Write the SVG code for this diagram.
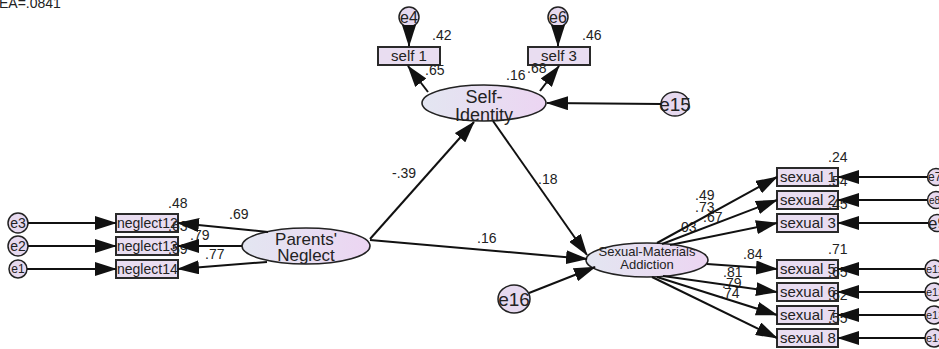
<svg xmlns="http://www.w3.org/2000/svg" width="939" height="349" viewBox="0 0 939 349">
<defs>
<linearGradient id="lg" x1="0" y1="0" x2="1" y2="0">
<stop offset="0" stop-color="#e3e6f1"/>
<stop offset="1" stop-color="#ecd5f2"/>
</linearGradient>
<marker id="ah" markerUnits="userSpaceOnUse" markerWidth="22" markerHeight="14" refX="21" refY="7" orient="auto">
<path d="M0,0 L22,7 L0,14 z" fill="#111"/>
</marker>
</defs>
<style>
.box{fill:#e9ddf1;stroke:#2a2a2a;stroke-width:2}
.lat{fill:url(#lg);stroke:#222;stroke-width:1.6}
.err{fill:#e6d9ef;stroke:#222;stroke-width:1.5}
.t{font-family:"Liberation Sans",Arial,sans-serif;fill:#222}
.bl{font-size:15px}
.n{font-size:14px}
.c{stroke:#111;stroke-width:2;fill:none;marker-end:url(#ah)}
</style>
<rect width="939" height="349" fill="#fff"/>
<text class="t" x="-1" y="8" font-size="14">EA=.0841</text>

<g id="self-identity"><ellipse class="lat" cx="484" cy="103" rx="62" ry="18"/><text class="t" x="484" y="103" font-size="18" text-anchor="middle">Self-</text><text class="t" x="484" y="121" font-size="18" text-anchor="middle">Identity</text></g>
<g id="parents-neglect"><ellipse class="lat" cx="306" cy="246" rx="64" ry="18"/><text class="t" x="306" y="245" font-size="17" text-anchor="middle">Parents'</text><text class="t" x="306" y="261" font-size="17" text-anchor="middle">Neglect</text></g>
<g id="sexual-addiction"><ellipse class="lat" cx="647" cy="260" rx="61" ry="17"/><text class="t" x="647" y="256" font-size="13" text-anchor="middle">Sexual-Materials</text><text class="t" x="647" y="269" font-size="13" text-anchor="middle">Addiction</text></g>

<g id="self1"><rect class="box" x="378" y="47" width="62" height="18"/><text class="t bl" x="409" y="61" text-anchor="middle">self 1</text></g>
<g id="self3"><rect class="box" x="528" y="47" width="62" height="18"/><text class="t bl" x="559" y="61" text-anchor="middle">self 3</text></g>
<g id="neglect12"><rect class="box" x="116" y="214" width="62" height="18"/><text class="t" x="117" y="228" font-size="14">neglect12</text></g>
<g id="neglect13"><rect class="box" x="116" y="237" width="62" height="18"/><text class="t" x="117" y="251" font-size="14">neglect13</text></g>
<g id="neglect14"><rect class="box" x="116" y="260" width="62" height="18"/><text class="t" x="117" y="274" font-size="14">neglect14</text></g>
<g id="sexual1"><rect class="box" x="777" y="168" width="61" height="18"/><text class="t bl" x="780" y="182">sexual 1</text></g>
<g id="sexual2"><rect class="box" x="777" y="191" width="61" height="18"/><text class="t bl" x="780" y="205">sexual 2</text></g>
<g id="sexual3"><rect class="box" x="777" y="214" width="61" height="18"/><text class="t bl" x="780" y="228">sexual 3</text></g>
<g id="sexual5"><rect class="box" x="777" y="260" width="61" height="18"/><text class="t bl" x="780" y="274">sexual 5</text></g>
<g id="sexual6"><rect class="box" x="777" y="283" width="61" height="18"/><text class="t bl" x="780" y="297">sexual 6</text></g>
<g id="sexual7"><rect class="box" x="777" y="306" width="61" height="18"/><text class="t bl" x="780" y="320">sexual 7</text></g>
<g id="sexual8"><rect class="box" x="777" y="329" width="61" height="18"/><text class="t bl" x="780" y="343">sexual 8</text></g>

<g id="e4"><circle class="err" cx="409" cy="17" r="10"/><text class="t" x="409" y="23" font-size="16" text-anchor="middle">e4</text></g>
<g id="e6"><circle class="err" cx="558" cy="17" r="10"/><text class="t" x="558" y="23" font-size="16" text-anchor="middle">e6</text></g>
<g id="e15"><ellipse class="err" cx="675" cy="104" rx="14" ry="12"/><text class="t" x="675" y="111" font-size="19" text-anchor="middle">e15</text></g>
<g id="e16"><ellipse class="err" cx="514" cy="299" rx="16" ry="14"/><text class="t" x="514" y="306" font-size="19" text-anchor="middle">e16</text></g>
<g id="e3"><circle class="err" cx="18" cy="223" r="10"/><text class="t" x="18" y="228" font-size="14" text-anchor="middle">e3</text></g>
<g id="e2"><circle class="err" cx="18" cy="246" r="10"/><text class="t" x="18" y="251" font-size="14" text-anchor="middle">e2</text></g>
<g id="e1"><circle class="err" cx="18" cy="269" r="9"/><text class="t" x="18" y="273" font-size="12" text-anchor="middle">e1</text></g>
<g id="e7"><circle class="err" cx="936" cy="177" r="8.5"/><text class="t" x="928" y="181" font-size="12">e7</text></g>
<g id="e8"><circle class="err" cx="936" cy="200" r="8.5"/><text class="t" x="929" y="204" font-size="10">e8</text></g>
<g id="e9"><circle class="err" cx="937" cy="223" r="8.5"/><text class="t" x="928" y="229" font-size="17">e9</text></g>
<g id="e11"><circle class="err" cx="934" cy="269" r="9"/><text class="t" x="926" y="273" font-size="11">e11</text></g>
<g id="e12"><circle class="err" cx="934" cy="292" r="9"/><text class="t" x="926" y="296" font-size="11">e12</text></g>
<g id="e13"><circle class="err" cx="934" cy="315" r="9"/><text class="t" x="926" y="319" font-size="11">e13</text></g>
<g id="e14"><circle class="err" cx="934" cy="338" r="9"/><text class="t" x="926" y="342" font-size="11">e14</text></g>

<g id="labels" class="t n">
<text x="432" y="40">.42</text>
<text x="582" y="40">.46</text>
<text x="425" y="75">.65</text>
<text x="506" y="80">.16</text>
<text x="527" y="73">.68</text>
<text x="168" y="208">.48</text>
<text x="168" y="231">.63</text>
<text x="168" y="254">.59</text>
<text x="229" y="219">.69</text>
<text x="190" y="240">.79</text>
<text x="205" y="259">.77</text>
<text x="392" y="178">-.39</text>
<text x="538" y="184">.18</text>
<text x="477" y="243">.16</text>
<text x="828" y="162">.24</text>
<text x="828" y="186">.54</text>
<text x="828" y="209">.45</text>
<text x="828" y="254">.71</text>
<text x="828" y="277">.65</text>
<text x="828" y="300">.62</text>
<text x="828" y="323">.55</text>
<text x="695" y="200">.49</text>
<text x="695" y="212">.73</text>
<text x="703" y="222">.67</text>
<text x="677" y="232">.03</text>
<text x="743" y="259">.84</text>
<text x="723" y="277">.81</text>
<text x="722" y="288">.79</text>
<text x="720" y="298">.74</text>
</g>

<g id="connectors">
<line class="c" x1="409" y1="27" x2="409" y2="46"/>
<line class="c" x1="558" y1="27" x2="558" y2="46"/>
<line class="c" x1="428" y1="92" x2="408" y2="66"/>
<line class="c" x1="540" y1="91" x2="559" y2="66"/>
<line class="c" x1="661" y1="104" x2="547" y2="103"/>
<line class="c" x1="370" y1="239" x2="474" y2="122"/>
<line class="c" x1="493" y1="121" x2="587" y2="255"/>
<line class="c" x1="370" y1="240" x2="587" y2="259"/>
<line class="c" x1="529" y1="293" x2="595" y2="267"/>
<line class="c" x1="28" y1="223" x2="116" y2="223"/>
<line class="c" x1="28" y1="246" x2="116" y2="246"/>
<line class="c" x1="27" y1="269" x2="116" y2="269"/>
<line class="c" x1="268" y1="232" x2="178" y2="223"/>
<line class="c" x1="242" y1="246" x2="178" y2="246"/>
<line class="c" x1="267" y1="262" x2="178" y2="269"/>
<line class="c" x1="657" y1="243" x2="777" y2="177"/>
<line class="c" x1="662" y1="244" x2="777" y2="200"/>
<line class="c" x1="670" y1="245" x2="777" y2="223"/>
<line class="c" x1="707" y1="264" x2="777" y2="269"/>
<line class="c" x1="663" y1="276" x2="777" y2="292"/>
<line class="c" x1="657" y1="277" x2="777" y2="315"/>
<line class="c" x1="652" y1="277" x2="777" y2="338"/>
<line class="c" x1="927" y1="177" x2="838" y2="177"/>
<line class="c" x1="927" y1="200" x2="838" y2="200"/>
<line class="c" x1="928" y1="223" x2="838" y2="223"/>
<line class="c" x1="925" y1="269" x2="838" y2="269"/>
<line class="c" x1="925" y1="292" x2="838" y2="292"/>
<line class="c" x1="925" y1="315" x2="838" y2="315"/>
<line class="c" x1="925" y1="338" x2="838" y2="338"/>
</g>
</svg>
